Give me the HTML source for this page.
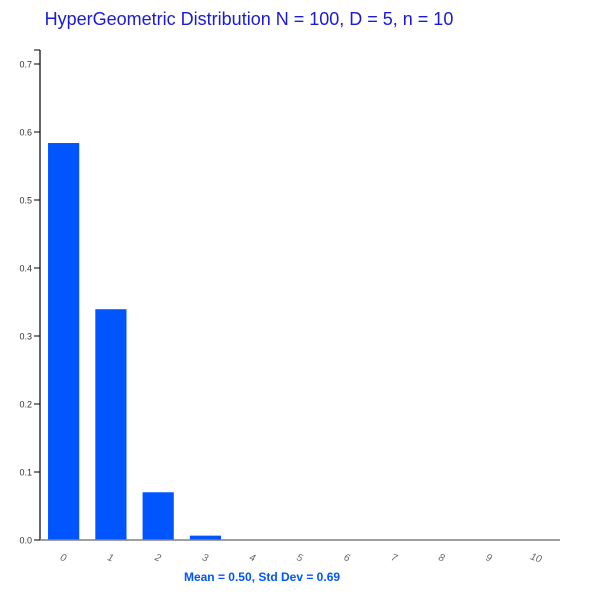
<!DOCTYPE html>
<html><head><meta charset="utf-8"><style>
body{margin:0;background:#fff;font-family:"Liberation Sans",sans-serif}
</style></head><body>
<svg id="chart" width="600" height="600">
<text x="249" y="25" text-anchor="middle" font-size="18" fill="#1a1ad8">HyperGeometric Distribution N = 100, D = 5, n = 10</text>
<g id="bars"></g>
<g id="yaxis"></g>
<g id="xaxis"></g>
<text x="262" y="581" text-anchor="middle" font-size="12" font-weight="bold" fill="#0055ff">Mean = 0.50, Std Dev = 0.69</text>
</svg>
<script>
const categories = ["0","1","2","3","4","5","6","7","8","9","10"];
const probabilities = [0.5838, 0.3394, 0.0702, 0.0064, 0.00025, 0.0000034, 0, 0, 0, 0, 0];
const yTicks = [0.0, 0.1, 0.2, 0.3, 0.4, 0.5, 0.6, 0.7];
const NS = "http://www.w3.org/2000/svg";
const x0 = 40, x1 = 560, y0 = 540, yTop = 50;
const step = (x1 - x0) / categories.length;
const bw = step * 0.66;
function xScale(i){ return x0 + step * i + (step - bw) / 2; }
function yScale(v){ return y0 - v / 0.1 * 68; }
function mk(tag, attrs, parent){ const e = document.createElementNS(NS, tag); for (const k in attrs) e.setAttribute(k, attrs[k]); parent.appendChild(e); return e; }
const bars = document.getElementById('bars');
probabilities.forEach((p, i) => {
  const r = mk('rect', {x: xScale(i), y: yScale(p), width: bw, height: y0 - yScale(p), fill: '#0055ff'}, bars);
  
  
});
const ya = document.getElementById('yaxis');
mk('line', {x1: x0, y1: yTop, x2: x0, y2: y0, stroke: '#000', 'stroke-width': 1.2}, ya);
mk('line', {x1: x0 - 6, y1: yTop, x2: x0, y2: yTop, stroke: '#000'}, ya);
yTicks.forEach(t => {
  const y = yScale(t);
  mk('line', {x1: x0 - 6, y1: y, x2: x0, y2: y, stroke: '#000'}, ya);
  const tx = mk('text', {x: x0 - 8, y: y + 3.5, 'text-anchor': 'end', 'font-size': 9, fill: '#333'}, ya);
  tx.textContent = t.toFixed(1);
  
  
});
const xa = document.getElementById('xaxis');
mk('line', {x1: x0, y1: y0, x2: x1, y2: y0, stroke: '#808080', 'stroke-width': 1.5}, xa);
categories.forEach((c, i) => {
  const cx = xScale(i) + bw / 2;
  const tx = mk('text', {x: cx, y: 561, 'text-anchor': 'middle', 'font-size': 10, 'font-style': 'italic', fill: '#666', transform: 'rotate(20 ' + cx + ' 557)'}, xa);
  tx.textContent = c;
  
  
});
</script>
</body></html>
